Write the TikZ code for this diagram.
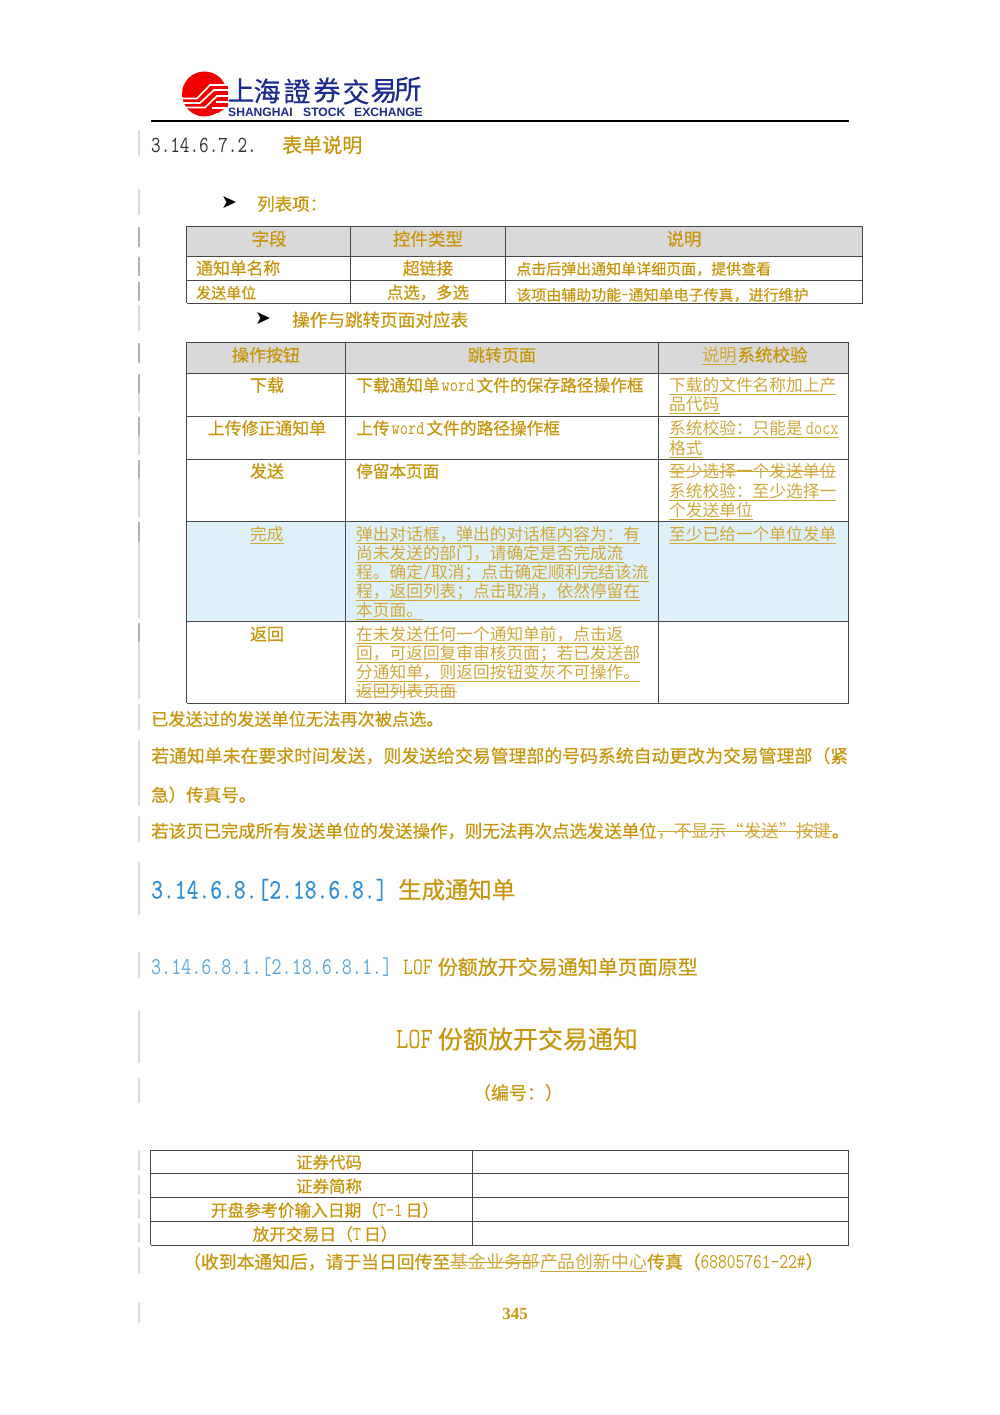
\documentclass[tikz,border=0pt]{standalone}
\usepackage{fontspec}
\usetikzlibrary{positioning}
\setmainfont{Noto Sans CJK SC}
\setmonofont[Scale=1.18,FakeStretch=0.81]{Latin Modern Mono}
\newfontfamily\medfont[FakeBold=0.45]{Noto Sans CJK SC}
\newfontfamily\latbold[Scale=1.18,FakeStretch=0.81,FakeBold=0.5]{Latin Modern Mono}
\newfontfamily\arialfont{Liberation Sans}
\newfontfamily\timesfont{Liberation Serif}
\newfontfamily\arrowfont{DejaVu Sans}
\newcommand{\fz}[1]{\fontsize{#1}{#1}\selectfont}
\newcommand{\lat}[1]{{\ttfamily #1}}
\definecolor{gold}{HTML}{C8960C}
\definecolor{goldlite}{HTML}{D2A73A}
\definecolor{navy}{HTML}{1C2A8E}
\definecolor{skyone}{HTML}{2E8FD8}
\definecolor{skytwo}{HTML}{5BA9E0}
\definecolor{headgray}{HTML}{D9D9D9}
\definecolor{rowblue}{HTML}{DEF0F8}
\tikzset{
	plain/.style={inner sep=0pt,anchor=west,text=gold,text height=16pt,text depth=3pt},
	txt/.style={plain,execute at begin node=\medfont},
	ctr/.style={txt,anchor=center},
	rev/.style={plain,text=goldlite},
	ln/.style={draw=goldlite,line width=0.8pt},
	ul/.style={rev,append after command={(\tikzlastnode.south west) edge[ln] (\tikzlastnode.south east)}},
	so/.style={rev,append after command={([yshift=6pt]\tikzlastnode.base west) edge[ln] ([yshift=6pt]\tikzlastnode.base east)}},
	tbl/.style={draw=black!72,line width=0.95pt,xshift=-0.5pt,yshift=0.6pt},
	cellfill/.style={xshift=-0.5pt,yshift=0.6pt},
	chg/.style={draw=black!14,line width=1.5pt},
	chgdark/.style={draw=black!30,line width=1.5pt},
	logochar/.style={inner sep=0pt,text=navy,font=\fz{27},execute at begin node=\medfont},
	logoword/.style={inner sep=0pt,anchor=west,text=navy,font=\arialfont\bfseries\fz{12.1}},
	stripe/.style={draw=white,line width=1.6pt},
	pointer/.style={inner sep=0pt,font=\arrowfont\fz{19}}
}
\begin{document}
\begin{tikzpicture}[x=1pt,y=-1pt]
	\useasboundingbox (0,0) rectangle (1000,1415);
	\fill[white] (0,0) rectangle (1000,1415);

	% logo
	\fill[red!95!black] (204.5,94) circle (22.5);
	\fill[red!95!black] (212,86) to (228,86) to (228,113) to (212,113) to cycle;
	\fill[white] (226,108) to (228,108) to (228,116) to (214,116) to (226,108);
	\draw[stripe] (182,98.5) to (197,98.5) to (210,85) to (228,85);
	\draw[stripe] (182,103) to (200,103) to (214,90) to (228,90);
	\draw[stripe] (184,107.5) to (205,107.5) to (217,96) to (228,96);
	\draw[stripe] (216,102) to (228,102);
	\draw[stripe] (212,108) to (228,108);
	\node[logochar] (chShang) at (241,90) {上};
	\node[logochar] (chHai) at (267,91) {海};
	\node[logochar] (chZheng) at (297,91) {證};
	\node[logochar] (chQuan) at (327,90) {券};
	\node[logochar] (chJiao) at (356,92) {交};
	\node[logochar] (chYi) at (384,91) {易};
	\node[logochar] (chSuo) at (408,89) {所};
	\node[logoword] (wdShanghai) at (228,112.5) {SHANGHAI};
	\node[logoword] (wdStock) at (303,112.5) {STOCK};
	\node[logoword] (wdExchange) at (354,112.5) {EXCHANGE};
	\draw[black,line width=1.3pt] (151,121) to (849,121);

	% change bars
	\draw[chg] (139,130) to (139,156);
	\draw[chg] (139,189) to (139,215);
	\draw[chgdark] (139,227) to (139,247);
	\draw[chgdark] (139,257) to (139,276);
	\draw[chgdark] (139,282) to (139,301);
	\draw[chg] (139,305) to (139,331);
	\draw[chgdark] (139,343) to (139,363);
	\draw[chgdark] (139,374) to (139,393);
	\draw[chg] (139,393) to (139,412);
	\draw[chgdark] (139,417) to (139,436);
	\draw[chg] (139,436) to (139,455);
	\draw[chgdark] (139,460) to (139,479);
	\draw[chg] (139,479) to (139,517);
	\draw[chgdark] (139,522) to (139,542);
	\draw[chg] (139,542) to (139,618);
	\draw[chgdark] (139,623) to (139,642);
	\draw[chg] (139,642) to (139,699);
	\draw[chg] (139,704) to (139,730);
	\draw[chg] (139,740) to (139,806);
	\draw[chg] (139,816) to (139,842);
	\draw[chg] (139,862) to (139,915);
	\draw[chg] (139,952) to (139,978);
	\draw[chg] (139,1011) to (139,1063);
	\draw[chg] (139,1078) to (139,1103);
	\draw[chg] (139,1151) to (139,1170);
	\draw[chg] (139,1175) to (139,1194);
	\draw[chg] (139,1199) to (139,1218);
	\draw[chg] (139,1223) to (139,1242);
	\draw[chg] (139,1247) to (139,1273);
	\draw[chg] (139,1303) to (139,1323);

	% heading and first table
	\node[plain,text=black!80,font=\fz{19.5}] (secNum) at (151,146) {\lat{3.14.6.7.2.}};
	\node[txt,font=\fz{20}] (secName) at (282,146) {表单说明};
	\node[pointer] (arrowA) at (229,203) {➤};
	\node[txt,font=\fz{17.5}] (listHead) at (257,204) {列表项：};
	\fill[headgray,cellfill] (187,227) to (863,227) to (863,257) to (187,257) to cycle;
	\draw[tbl] (187,227) to (863,227);
	\draw[tbl] (187,257) to (863,257);
	\draw[tbl] (187,281) to (863,281);
	\draw[tbl] (187,304) to (863,304);
	\draw[tbl] (187,227) to (187,304);
	\draw[tbl] (351,227) to (351,304);
	\draw[tbl] (506,227) to (506,304);
	\draw[tbl] (863,227) to (863,304);
	\node[ctr,font=\fz{17.5}] (headField) at (269,239) {字段};
	\node[ctr,font=\fz{17.5}] (headType) at (428,239) {控件类型};
	\node[ctr,font=\fz{17.5}] (headNote) at (684,239) {说明};
	\node[txt,font=\fz{16.8}] (fieldName) at (196,268) {通知单名称};
	\node[ctr,font=\fz{16.8}] (typeLink) at (428,268) {超链接};
	\node[txt,font=\fz{15}] (noteLink) at (516,268) {点击后弹出通知单详细页面，提供查看};
	\node[txt,font=\fz{15}] (fieldUnit) at (196,292) {发送单位};
	\node[ctr,font=\fz{16.4}] (typePick) at (428,292) {点选，多选};
	\node[txt,font=\fz{15}] (notePick) at (516,294) {该项由辅助功能\lat{-}通知单电子传真，进行维护};

	% second table
	\node[pointer] (arrowB) at (263,319) {➤};
	\node[txt,font=\fz{17.6}] (opsHead) at (292,320) {操作与跳转页面对应表};
	\fill[headgray,cellfill] (187,343) to (849,343) to (849,374) to (187,374) to cycle;
	\fill[rowblue,cellfill] (187,522) to (849,522) to (849,622) to (187,622) to cycle;
	\draw[tbl] (187,343) to (849,343);
	\draw[tbl] (187,374) to (849,374);
	\draw[tbl] (187,417) to (849,417);
	\draw[tbl] (187,460) to (849,460);
	\draw[tbl] (187,522) to (849,522);
	\draw[tbl] (187,622) to (849,622);
	\draw[tbl] (187,704) to (849,704);
	\draw[tbl] (187,343) to (187,704);
	\draw[tbl] (346,343) to (346,704);
	\draw[tbl] (659,343) to (659,704);
	\draw[tbl] (849,343) to (849,704);
	\node[ctr,font=\fz{17}] (headOp) at (266,355) {操作按钮};
	\node[ctr,font=\fz{17}] (headJump) at (502,355) {跳转页面};
	\node[ul,font=\fz{17.5}] (headCheckA) at (702,355) {说明};
	\node[txt,font=\fz{17.5},right=0pt of headCheckA] (headCheckB) {系统校验};
	\node[ctr,font=\fz{17}] (opDown) at (267,385) {下载};
	\node[txt,font=\fz{16.7}] (jumpDown) at (356,385) {下载通知单\kern2pt\lat{word}\kern2pt 文件的保存路径操作框};
	\node[ul,font=\fz{16.7}] (chkDownA) at (669,385) {下载的文件名称加上产};
	\node[ul,font=\fz{16.7}] (chkDownB) at (669,404) {品代码};
	\node[ctr,font=\fz{16.9}] (opUp) at (267,428) {上传修正通知单};
	\node[txt,font=\fz{16.7}] (jumpUp) at (356,428) {上传\kern2pt\lat{word}\kern2pt 文件的路径操作框};
	\node[ul,font=\fz{16.7}] (chkUpA) at (669,428) {系统校验：只能是\kern3pt\lat{docx}};
	\node[ul,font=\fz{16.7}] (chkUpB) at (669,448) {格式};
	\node[ctr,font=\fz{17}] (opSend) at (267,471) {发送};
	\node[txt,font=\fz{16.6}] (jumpSend) at (356,471) {停留本页面};
	\node[so,font=\fz{16.7}] (chkSendA) at (669,471) {至少选择一个发送单位};
	\node[ul,font=\fz{16.7}] (chkSendB) at (669,491) {系统校验：至少选择一};
	\node[ul,font=\fz{16.7}] (chkSendC) at (669,510) {个发送单位};
	\node[ul,font=\fz{16.7}] (opDone) at (250,534) {完成};
	\node[ul,font=\fz{16.7}] (jumpDoneA) at (356,534) {弹出对话框，弹出的对话框内容为：有};
	\node[ul,font=\fz{16.7}] (jumpDoneB) at (356,553) {尚未发送的部门，请确定是否完成流};
	\node[ul,font=\fz{16.7}] (jumpDoneC) at (356,572) {程。确定\lat{/}取消；点击确定顺利完结该流};
	\node[ul,font=\fz{16.7}] (jumpDoneD) at (356,591) {程，返回列表；点击取消，依然停留在};
	\node[ul,font=\fz{16.7}] (jumpDoneE) at (356,610) {本页面。};
	\node[ul,font=\fz{16.7}] (chkDone) at (669,534) {至少已给一个单位发单};
	\node[ctr,font=\fz{17}] (opBack) at (267,634) {返回};
	\node[ul,font=\fz{16.7}] (jumpBackA) at (356,634) {在未发送任何一个通知单前，点击返};
	\node[ul,font=\fz{16.7}] (jumpBackB) at (356,653) {回，可返回复审审核页面；若已发送部};
	\node[ul,font=\fz{16.7}] (jumpBackC) at (356,672) {分通知单，则返回按钮变灰不可操作。};
	\node[so,font=\fz{16.7}] (jumpBackD) at (356,691) {返回列表页面};

	% body text
	\node[txt,font=\fz{17.2}] (paraA) at (151,719) {已发送过的发送单位无法再次被点选。};
	\node[txt,font=\fz{17.87}] (paraB) at (151,756) {若通知单未在要求时间发送，则发送给交易管理部的号码系统自动更改为交易管理部（紧};
	\node[txt,font=\fz{17.5}] (paraC) at (151,795) {急）传真号。};
	\node[txt,font=\fz{17.43}] (paraDa) at (151,831) {若该页已完成所有发送单位的发送操作，则无法再次点选发送单位};
	\node[so,font=\fz{17.43},right=0pt of paraDa] (paraDb) {，不显示“发送”按键};
	\node[txt,font=\fz{17.43},right=0pt of paraDb] (paraDc) {。};

	% section titles
	\node[plain,text=skyone,font=\fz{24}\latbold] (sectNum) at (151,892) {3.14.6.8.[2.18.6.8.]};
	\node[txt,font=\fz{23.4}] (sectName) at (398,892) {生成通知单};
	\node[plain,text=skytwo,font=\fz{20.4}] (subNum) at (151,968) {\lat{3.14.6.8.1.[2.18.6.8.1.]}};
	\node[txt,font=\fz{20}] (subName) at (403,968) {\lat{LOF}\kern5pt 份额放开交易通知单页面原型};
	\node[ctr,font=\fz{25}] (docTitle) at (517,1042) {\lat{LOF}\kern5pt 份额放开交易通知};
	\node[ctr,font=\fz{18}] (docCode) at (518,1093) {（编号：）};

	% third table
	\draw[tbl] (151,1151) to (849,1151);
	\draw[tbl] (151,1174.5) to (849,1174.5);
	\draw[tbl] (151,1198) to (849,1198);
	\draw[tbl] (151,1222) to (849,1222);
	\draw[tbl] (151,1246) to (849,1246);
	\draw[tbl] (151,1151) to (151,1246);
	\draw[tbl] (473,1151) to (473,1246);
	\draw[tbl] (849,1151) to (849,1246);
	\node[ctr,font=\fz{16.5}] (rowCode) at (329,1162) {证券代码};
	\node[ctr,font=\fz{16.5}] (rowAbbr) at (329,1186) {证券简称};
	\node[ctr,font=\fz{16.7}] (rowPrice) at (325,1210) {开盘参考价输入日期（\lat{T-1}\kern3pt 日）};
	\node[ctr,font=\fz{16.7}] (rowDay) at (325,1234) {放开交易日（\lat{T}\kern3pt 日）};
	\node[txt,font=\fz{17.8}] (faxA) at (183,1262) {（收到本通知后，请于当日回传至};
	\node[so,font=\fz{17.8},right=0pt of faxA] (faxB) {基金业务部};
	\node[ul,font=\fz{17.8},right=0pt of faxB] (faxC) {产品创新中心};
	\node[txt,font=\fz{17.8},right=0pt of faxC] (faxD) {传真（\lat{68805761-22\#}）};
	\node[ctr,text=gold,font=\timesfont\bfseries\fz{17},execute at begin node=\timesfont] (pageNum) at (515,1313) {345};
\end{tikzpicture}
\end{document}
